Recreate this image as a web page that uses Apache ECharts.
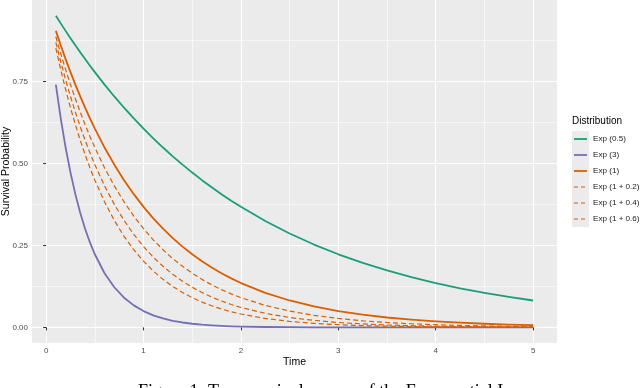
<!DOCTYPE html>
<html>
<head>
<meta charset="utf-8">
<script src="https://cdn.jsdelivr.net/npm/echarts@6/dist/echarts.min.js"></script>
<style>html,body{margin:0;padding:0;background:#fff;}#c{width:640px;height:388px;}</style>
</head>
<body>
<div id="c"></div>
<script>
var times = [0.1,0.15,0.2,0.25,0.3,0.35,0.4,0.45,0.5,0.6,0.7,0.8,0.9,1.0,1.1,1.2,1.3,1.4,1.5,1.6,1.7,1.8,1.9,2.0,2.25,2.5,2.75,3.0,3.25,3.5,3.75,4.0,4.25,4.5,4.75,5.0];
var exp05 = [0.9512,0.9277,0.9048,0.8825,0.8607,0.8395,0.8187,0.7985,0.7788,0.7408,0.7047,0.6703,0.6376,0.6065,0.5769,0.5488,0.5220,0.4966,0.4724,0.4493,0.4274,0.4066,0.3867,0.3679,0.3247,0.2865,0.2528,0.2231,0.1969,0.1738,0.1534,0.1353,0.1194,0.1054,0.0930,0.0821];
var exp3 = [0.7408,0.6376,0.5488,0.4724,0.4066,0.3499,0.3012,0.2592,0.2231,0.1653,0.1225,0.0907,0.0672,0.0498,0.0369,0.0273,0.0202,0.0150,0.0111,0.0082,0.0061,0.0045,0.0033,0.0025,0.0012,0.0006,0.0003,0.0001,0.0001,0.0000,0.0000,0.0000,0.0000,0.0000,0.0000,0.0000];
var exp1 = [0.9048,0.8607,0.8187,0.7788,0.7408,0.7047,0.6703,0.6376,0.6065,0.5488,0.4966,0.4493,0.4066,0.3679,0.3329,0.3012,0.2725,0.2466,0.2231,0.2019,0.1827,0.1653,0.1496,0.1353,0.1054,0.0821,0.0639,0.0498,0.0388,0.0302,0.0235,0.0183,0.0143,0.0111,0.0087,0.0067];
var exp12 = [0.8869,0.8353,0.7866,0.7408,0.6977,0.6570,0.6188,0.5827,0.5488,0.4868,0.4317,0.3829,0.3396,0.3012,0.2671,0.2369,0.2101,0.1864,0.1653,0.1466,0.1300,0.1153,0.1023,0.0907,0.0672,0.0498,0.0369,0.0273,0.0202,0.0150,0.0111,0.0082,0.0061,0.0045,0.0033,0.0025];
var exp14 = [0.8694,0.8106,0.7558,0.7047,0.6570,0.6126,0.5712,0.5326,0.4966,0.4317,0.3753,0.3263,0.2837,0.2466,0.2144,0.1864,0.1620,0.1409,0.1225,0.1065,0.0926,0.0805,0.0699,0.0608,0.0429,0.0302,0.0213,0.0150,0.0106,0.0074,0.0052,0.0037,0.0026,0.0018,0.0013,0.0009];
var exp16 = [0.8521,0.7866,0.7261,0.6703,0.6188,0.5712,0.5273,0.4868,0.4493,0.3829,0.3263,0.2780,0.2369,0.2019,0.1720,0.1466,0.1249,0.1065,0.0907,0.0773,0.0659,0.0561,0.0478,0.0408,0.0273,0.0183,0.0123,0.0082,0.0055,0.0037,0.0025,0.0017,0.0011,0.0007,0.0005,0.0003];
var seriesNames = ['Exp (0.5)','Exp (3)','Exp (1)','Exp (1 + 0.2)','Exp (1 + 0.4)','Exp (1 + 0.6)'];
var xTicks = [0,1,2,3,4,5];
var xMinor = [0.5,1.5,2.5,3.5,4.5];
var yTicks = [0,0.25,0.5,0.75];
var yMinor = [0.125,0.375,0.625,0.875];
var xTitle = 'Time';
var yTitle = 'Survival Probability';
var legendTitle = 'Distribution';
var caption = 'Figure 1: True survival curves of the Exponential In';

var values = [exp05, exp3, exp1, exp12, exp14, exp16];
var colors = ['#1b9e77','#7570b3','#d95f02','#d95f02','#d95f02','#d95f02'];
var dashed = [false,false,false,true,true,true];

function pairs(arr){ return times.map(function(t,i){ return [t, arr[i]]; }); }

var font = 'Liberation Sans, Arial, Helvetica, sans-serif';
var xMin = -0.145, xMax = 5.245, yMin = -0.0476, yMax = 0.999;

var series = seriesNames.map(function(n, i){
  return {
    name: n, type: 'line', data: pairs(values[i]),
    xAxisIndex: 0, yAxisIndex: 0,
    symbol: 'none', smooth: false,
    lineStyle: { color: colors[i], width: dashed[i] ? 1.2 : 1.8, type: dashed[i] ? [5,3] : 'solid', join: 'round' },
    itemStyle: { color: colors[i] },
    animation: false, silent: true
  };
});

// manual legend (ggplot style)
var legendGraphics = [
  { type: 'rect', left: 572, top: 131, shape: { width: 17, height: 96 }, style: { fill: '#ebebeb' }, silent: true },
  { type: 'text', left: 572, top: 116, style: { text: legendTitle, fontSize: 10, fontFamily: font, fill: '#000' } }
];
seriesNames.forEach(function(n, i){
  var y = 139 + 16 * i;
  legendGraphics.push({ type: 'line', shape: { x1: 574, y1: y, x2: 587, y2: y },
    style: { stroke: colors[i], lineWidth: dashed[i] ? 1.2 : 1.8, lineDash: dashed[i] ? [4,3] : null }, silent: true });
  legendGraphics.push({ type: 'text', x: 593, y: y, style: { text: n, fontSize: 8.1, fontFamily: font, fill: '#1a1a1a', verticalAlign: 'middle' } });
});
legendGraphics.push({ type: 'text', left: 138, top: 383, style: { text: caption, fontSize: 18, fontFamily: 'Liberation Serif, DejaVu Serif, serif', fill: '#000' } });

var chart = echarts.init(document.getElementById('c'), null, {renderer: 'canvas'});
chart.setOption({
  animation: false,
  grid: { left: 32, right: 83, top: 0, bottom: 45, show: true, backgroundColor: '#ebebeb', borderWidth: 0, containLabel: false, outerBoundsMode: 'none' },
  xAxis: [{
    type: 'value', min: xMin, max: xMax,
    name: xTitle, nameLocation: 'middle', nameGap: 14, nameMoveOverlap: false,
    nameTextStyle: { color: '#000', fontSize: 10.5, fontFamily: font },
    axisLine: { show: false },
    axisTick: { show: true, length: 3, lineStyle: { color: '#333', width: 1 }, customValues: xTicks },
    axisLabel: { color: '#4d4d4d', fontSize: 8, fontFamily: font, margin: 4, customValues: xTicks, formatter: function(v){ return String(v); } },
    splitLine: { show: true, lineStyle: { color: '#fff', width: 1.1 } }
  },{
    type: 'value', min: xMin, max: xMax, gridIndex: 0, position: 'bottom',
    axisLine: { show: false }, axisLabel: { show: false },
    axisTick: { show: false, customValues: xMinor },
    splitLine: { show: true, lineStyle: { color: '#fff', width: 0.55 } }
  }],
  yAxis: [{
    type: 'value', min: yMin, max: yMax,
    name: yTitle, nameLocation: 'middle', nameGap: 20, nameRotate: 90, nameMoveOverlap: false,
    nameTextStyle: { color: '#000', fontSize: 10.5, fontFamily: font },
    axisLine: { show: false },
    axisTick: { show: true, length: 3, lineStyle: { color: '#333', width: 1 }, customValues: yTicks },
    axisLabel: { color: '#4d4d4d', fontSize: 8, fontFamily: font, margin: 4, customValues: yTicks, formatter: function(v){ return v.toFixed(2); } },
    splitLine: { show: true, lineStyle: { color: '#fff', width: 1.1 } }
  },{
    type: 'value', min: yMin, max: yMax, gridIndex: 0, position: 'left',
    axisLine: { show: false }, axisLabel: { show: false },
    axisTick: { show: false, customValues: yMinor },
    splitLine: { show: true, lineStyle: { color: '#fff', width: 0.55 } }
  }],
  graphic: legendGraphics,
  series: series
});
</script>
</body>
</html>
